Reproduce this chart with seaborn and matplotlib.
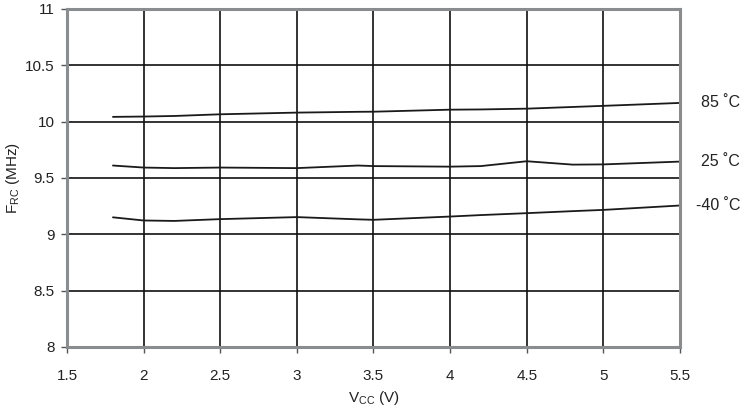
import pandas as pd
import matplotlib
matplotlib.use("Agg")
import matplotlib.pyplot as plt
import matplotlib.transforms as mtrans
import seaborn as sns

# values
vcc = [1.8, 2.0, 2.2, 2.5, 3.0, 3.4, 3.5, 4.0, 4.2, 4.5, 4.8, 5.0, 5.5]
f_85 = [10.042, 10.045, 10.05, 10.065, 10.08, 10.087, 10.088, 10.106, 10.108, 10.115, 10.13, 10.14, 10.166]
f_25 = [9.61, 9.592, 9.587, 9.592, 9.587, 9.61, 9.605, 9.60, 9.605, 9.648, 9.618, 9.62, 9.645]
f_m40 = [9.15, 9.122, 9.118, 9.134, 9.152, 9.132, 9.128, 9.157, 9.17, 9.187, 9.205, 9.216, 9.255]
temps = ["85 \u02daC", "25 \u02daC", "-40 \u02daC"]

df = pd.DataFrame({
    "vcc": vcc * 3,
    "freq": f_85 + f_25 + f_m40,
    "temp": [temps[0]] * len(vcc) + [temps[1]] * len(vcc) + [temps[2]] * len(vcc),
})

sns.set_style("ticks")
plt.rcParams["font.family"] = ["Liberation Sans", "DejaVu Sans"]

fig = plt.figure(figsize=(7.44, 4.09), dpi=100)
ax = fig.add_axes([0.090, 0.152, 0.824, 0.826])

sns.lineplot(data=df, x="vcc", y="freq", hue="temp",
             palette=["#1a1a1a"] * 3, linewidth=1.3, legend=False, ax=ax)

ax.set_xlim(1.5, 5.5)
ax.set_ylim(8, 11)
ax.set_xticks([1.5, 2, 2.5, 3, 3.5, 4, 4.5, 5, 5.5])
ax.set_xticklabels(["1.5", "2", "2.5", "3", "3.5", "4", "4.5", "5", "5.5"])
ax.set_yticks([8, 8.5, 9, 9.5, 10, 10.5, 11])
ax.set_yticklabels(["8", "8.5", "9", "9.5", "10", "10.5", "11"])
ax.grid(True, color="#111111", linewidth=1.2)
ax.set_axisbelow(True)

for sp in ax.spines.values():
    sp.set_visible(True)
    sp.set_color("#8a8d90")
    sp.set_linewidth(2.2)
    sp.set_zorder(3)

ax.tick_params(axis="both", length=4, width=1, color="#555555",
               labelsize=11, labelcolor="#222222", pad=5)
ax.tick_params(axis="x", pad=12)

ax.set_xlabel("V$_\\mathregular{CC}$ (V)", fontsize=11, color="#222222", labelpad=4)
ax.set_ylabel("F$_\\mathregular{RC}$ (MHz)", fontsize=11, color="#222222", labelpad=2)

trans = mtrans.blended_transform_factory(ax.transAxes, ax.transData)
for lab, ys in zip(temps, [f_85, f_25, f_m40]):
    ax.text(1.098, ys[-1], lab, transform=trans, ha="right", va="center",
            fontsize=11.5, color="#222222")

fig.savefig("out.png", dpi=100)
